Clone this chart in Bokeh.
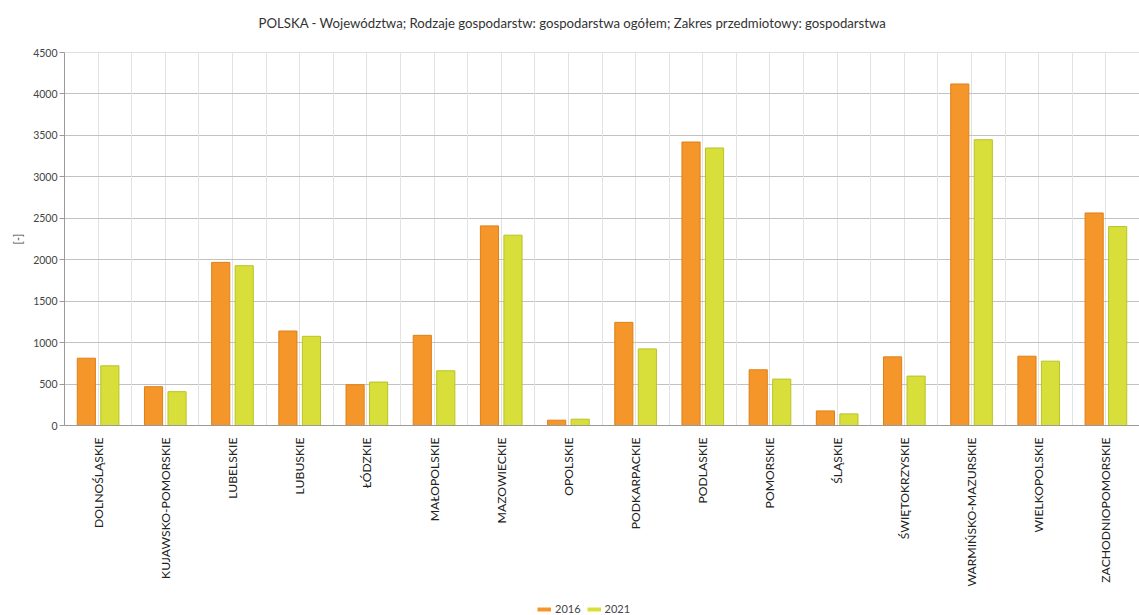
import math
from bokeh.plotting import figure
from bokeh.layouts import column
from bokeh.models import (FactorRange, Range1d, Grid, FixedTicker, Legend, LegendItem,
                          SingleIntervalTicker, ColumnDataSource, Label)
from bokeh.transform import dodge
from bokeh.embed import file_html
from bokeh.resources import INLINE

title_text = "POLSKA - Województwa; Rodzaje gospodarstw: gospodarstwa ogółem; Zakres przedmiotowy: gospodarstwa"
y_label = "[-]"
regions = ["DOLNOŚLĄSKIE", "KUJAWSKO-POMORSKIE", "LUBELSKIE", "LUBUSKIE", "ŁÓDZKIE",
           "MAŁOPOLSKIE", "MAZOWIECKIE", "OPOLSKIE", "PODKARPACKIE", "PODLASKIE",
           "POMORSKIE", "ŚLĄSKIE", "ŚWIĘTOKRZYSKIE", "WARMIŃSKO-MAZURSKIE",
           "WIELKOPOLSKIE", "ZACHODNIOPOMORSKIE"]
series_names = ["2016", "2021"]
v2016 = [812, 468, 1968, 1140, 492, 1088, 2408, 64, 1244, 3420, 672, 176, 828, 4120, 836, 2564]
v2021 = [720, 408, 1928, 1076, 524, 660, 2296, 76, 924, 3348, 560, 140, 596, 3448, 776, 2400]
y_max = 4500
y_step = 500

FONT = "Lato"
ORANGE = "#f5962b"
ORANGE_LINE = "#df7f18"
GREEN = "#d8df3a"
GREEN_LINE = "#b9c324"
W = 1139
LEFT = 64

src = ColumnDataSource(dict(x=regions, a=v2016, b=v2021))

# ---- title strip (its frame is aligned with the chart frame by the column layout) ----
p0 = figure(width=W, height=30, x_range=Range1d(LEFT, W), y_range=Range1d(0, 30),
            min_border=0, x_axis_location=None, y_axis_location=None,
            output_backend="svg", toolbar_location=None)
p0.grid.visible = False
p0.outline_line_color = None
p0.add_layout(Label(x=572, y=8, text=title_text, text_align="center", text_baseline="middle",
                    text_font=FONT, text_font_size="13.2px", text_color="#333333"))

# ---- main chart ----
p = figure(x_range=FactorRange(*regions), y_range=Range1d(0, y_max + 0.01),
           frame_width=1075, frame_height=373,
           min_border_left=LEFT, min_border_right=0, min_border_top=22, min_border_bottom=177,
           output_backend="svg", toolbar_location=None)

p.vbar(x=dodge("x", -0.175, range=p.x_range), top="a", width=0.27, source=src,
       fill_color=ORANGE, line_color=ORANGE_LINE, line_width=1)
p.vbar(x=dodge("x", 0.175, range=p.x_range), top="b", width=0.27, source=src,
       fill_color=GREEN, line_color=GREEN_LINE, line_width=1)

# boundary grid lines between categories
p.add_layout(Grid(dimension=0, ticker=FixedTicker(ticks=list(range(len(regions) + 1))),
                  grid_line_color="#c6c6c6", grid_line_width=1))
p.xgrid.grid_line_color = "#e2e2e2"
p.ygrid.grid_line_color = "#c2c2c2"
p.ygrid.ticker = SingleIntervalTicker(interval=y_step)
p.outline_line_color = None

p.yaxis.ticker = SingleIntervalTicker(interval=y_step)
p.yaxis.minor_tick_line_color = None
p.yaxis.major_tick_in = 0
p.yaxis.major_tick_out = 5
p.yaxis.major_tick_line_color = "#9a9a9a"
p.yaxis.axis_line_color = "#9a9a9a"
p.yaxis.major_label_text_font = FONT
p.yaxis.major_label_text_font_size = "10.5px"
p.yaxis.major_label_text_color = "#444444"
p.yaxis.major_label_standoff = 2
p.yaxis.axis_label = y_label
p.yaxis.axis_label_text_font = FONT
p.yaxis.axis_label_text_font_size = "11px"
p.yaxis.axis_label_text_font_style = "normal"
p.yaxis.axis_label_text_color = "#444444"
p.yaxis.axis_label_standoff = 6

p.xaxis.major_label_orientation = math.pi / 2
p.xaxis.major_label_text_font = FONT
p.xaxis.major_label_text_font_size = "12.2px"
p.xaxis.major_label_text_color = "#222222"
p.xaxis.major_label_standoff = 8
p.xaxis.major_tick_line_color = None
p.xaxis.major_tick_out = 4
p.xaxis.axis_line_color = "#9a9a9a"

# ---- legend strip ----
p2 = figure(width=W, height=13, x_range=FactorRange(*regions), y_range=Range1d(-2, -1),
            min_border=0, x_axis_location=None, y_axis_location=None,
            output_backend="svg", toolbar_location=None)
p2.grid.visible = False
p2.outline_line_color = None
r1 = p2.line(x="x", y="a", source=src, line_color=ORANGE, line_width=4)
r2 = p2.line(x="x", y="b", source=src, line_color=GREEN, line_width=4)
legend = Legend(items=[LegendItem(label=series_names[0], renderers=[r1]),
                       LegendItem(label=series_names[1], renderers=[r2])],
                orientation="horizontal", location=(537 - LEFT, 0),
                glyph_width=14, glyph_height=12, label_standoff=4, spacing=6,
                label_text_font=FONT, label_text_font_size="11px", label_text_color="#444444",
                label_height=12,
                border_line_color=None, background_fill_alpha=0, padding=0, margin=0)
p2.add_layout(legend, "center")

layout = column(p0, p, p2, spacing=0)
open("out.html", "w").write(file_html(layout, INLINE))
